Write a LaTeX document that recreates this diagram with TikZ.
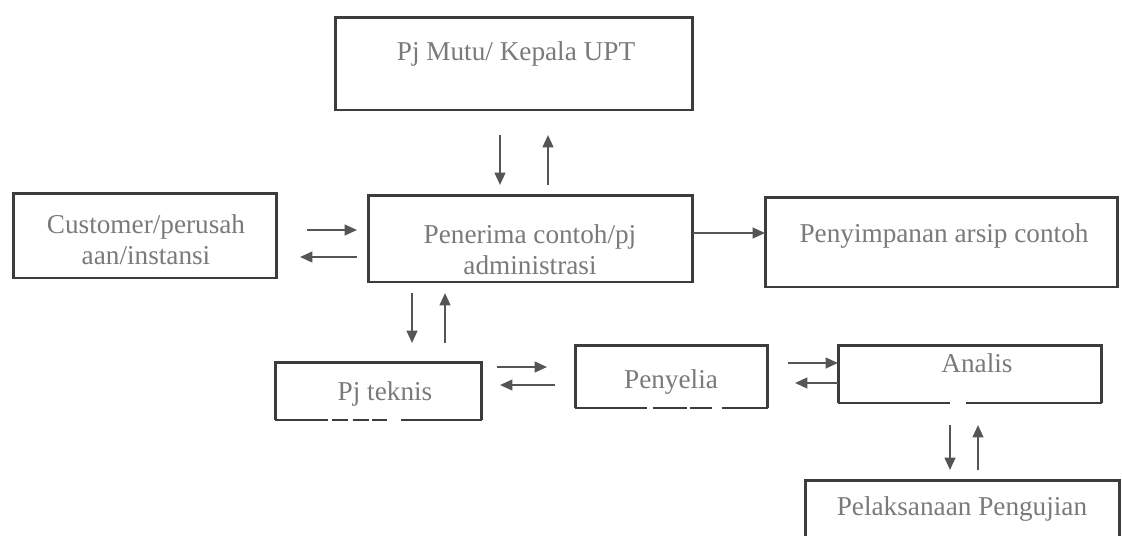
\documentclass[tikz,border=0pt]{standalone}
\usepackage{fontspec}
\setmainfont{Liberation Serif}
\usetikzlibrary{arrows.meta}
\definecolor{boxline}{HTML}{3C3C3C}
\definecolor{arrowline}{HTML}{555555}
\definecolor{labeltext}{HTML}{7A7A7A}
\tikzset{
  unit box/.style={draw=boxline, line width=1.7pt, rectangle, inner sep=0pt, outer sep=0pt},
  open box/.style={rectangle, inner sep=0pt, outer sep=0pt},
  box edge/.style={draw=boxline, line width=1.7pt},
  flow/.style={draw=arrowline, line width=1.3pt, -{Triangle[length=7pt,width=6pt]}},
  lbl/.style={text=labeltext, font=\fontsize{15.5}{17.5}\selectfont, inner sep=0pt, align=center}
}
\begin{document}
\begin{tikzpicture}[x=0.02cm, y=-0.02cm]
\useasboundingbox (0,0) rectangle (1122,535);
\clip (0,0) rectangle (1122,535);
\fill[white] (0,0) rectangle (1122,535);
% Boxes
\node[unit box, minimum width=7.16cm, minimum height=1.86cm] (mutu) at (514,63.5) {};
\node[unit box, minimum width=5.28cm, minimum height=1.7cm] (cust) at (145,235.5) {};
\node[unit box, minimum width=6.5cm, minimum height=1.74cm] (pen) at (530.5,238.5) {};
\node[unit box, minimum width=7.06cm, minimum height=1.8cm] (arsip) at (941.5,242) {};
\node[open box, minimum width=4.14cm, minimum height=1.16cm] (teknis) at (378.5,391) {};
\node[open box, minimum width=3.86cm, minimum height=1.26cm] (penyelia) at (671.5,376.5) {};
\node[open box, minimum width=5.28cm, minimum height=1.16cm] (analis) at (970,374) {};
\node[unit box, minimum width=6.3cm, minimum height=1.3cm] (pelak) at (962.5,512.5) {};
% Broken outlines of the lower row
\draw[box edge] (teknis.south west) -- (teknis.north west) -- (teknis.north east) -- (teknis.south east);
\draw[box edge, dash pattern=on 30pt off 2.3pt on 9pt off 2.8pt on 9.6pt off 1.7pt on 8.5pt off 7.9pt on 46pt] (teknis.south west) -- (teknis.south east);
\draw[box edge] (penyelia.south west) -- (penyelia.north west) -- (penyelia.north east) -- (penyelia.south east);
\draw[box edge, dash pattern=on 40.8pt off 3.4pt on 19.3pt off 1.7pt on 12.5pt off 5.7pt on 27pt] (penyelia.south west) -- (penyelia.south east);
\draw[box edge] (analis.south west) -- (analis.north west) -- (analis.north east) -- (analis.south east);
\draw[box edge, dash pattern=on 63.5pt off 9.6pt on 78pt] (analis.south west) -- (analis.south east);
% Labels
\node[lbl, anchor=base] (mutu-t) at (516,60) {Pj Mutu/ Kepala UPT};
\node[lbl] (cust-t) at (146,240) {Customer/perusah\\aan/instansi};
\node[lbl] (pen-t) at (530,250) {Penerima contoh/pj\\administrasi};
\node[lbl, anchor=base] (arsip-t) at (944,242) {Penyimpanan arsip contoh};
\node[lbl, anchor=base] (teknis-t) at (385,400) {Pj teknis};
\node[lbl, anchor=base] (penyelia-t) at (671,388) {Penyelia};
\node[lbl, anchor=base] (analis-t) at (977,372) {Analis};
\node[lbl, anchor=base] (pelak-t) at (962,515) {Pelaksanaan Pengujian};
% Pj Mutu <-> Penerima
\draw[flow, shorten <=0.5cm, shorten >=0.2cm] ([xshift=-0.28cm]mutu.south) -- ([xshift=-0.28cm]mutu.south |- pen.north);
\draw[flow, shorten <=0.2cm, shorten >=0.5cm] ([xshift=0.68cm]mutu.south |- pen.north) -- ([xshift=0.68cm]mutu.south);
% Customer <-> Penerima
\draw[flow, shorten <=0.6cm, shorten >=0.22cm] ([yshift=0.11cm]cust.east) -- ([yshift=0.11cm]cust.east -| pen.west);
\draw[flow, shorten <=0.22cm, shorten >=0.46cm] ([yshift=-0.43cm]cust.east -| pen.west) -- ([yshift=-0.43cm]cust.east);
% Penerima -> Penyimpanan
\draw[flow] ([yshift=0.11cm]pen.east) -- ([yshift=0.11cm]pen.east -| arsip.west);
% Penerima <-> Pj teknis
\draw[flow, shorten <=0.22cm, shorten >=0.38cm] ([xshift=-2.37cm]pen.south) -- ([xshift=-2.37cm]pen.south |- teknis.north);
\draw[flow, shorten <=0.38cm, shorten >=0.22cm] ([xshift=-1.71cm]pen.south |- teknis.north) -- ([xshift=-1.71cm]pen.south);
% Pj teknis <-> Penyelia
\draw[flow, shorten <=0.3cm, shorten >=0.56cm] ([yshift=0.48cm]teknis.east) -- ([yshift=0.48cm]teknis.east -| penyelia.west);
\draw[flow, shorten <=0.4cm, shorten >=0.36cm] ([yshift=0.12cm]teknis.east -| penyelia.west) -- ([yshift=0.12cm]teknis.east);
% Penyelia <-> Analis
\draw[flow, shorten <=0.4cm] ([yshift=0.27cm]penyelia.east) -- ([yshift=0.27cm]penyelia.east -| analis.west);
\draw[flow, shorten >=0.54cm] ([yshift=-0.13cm]penyelia.east -| analis.west) -- ([yshift=-0.13cm]penyelia.east);
% Analis <-> Pelaksanaan
\draw[flow, shorten <=0.44cm, shorten >=0.2cm] ([xshift=-0.4cm]analis.south) -- ([xshift=-0.4cm]analis.south |- pelak.north);
\draw[flow, shorten <=0.2cm, shorten >=0.44cm] ([xshift=0.16cm]analis.south |- pelak.north) -- ([xshift=0.16cm]analis.south);
\end{tikzpicture}
\end{document}
